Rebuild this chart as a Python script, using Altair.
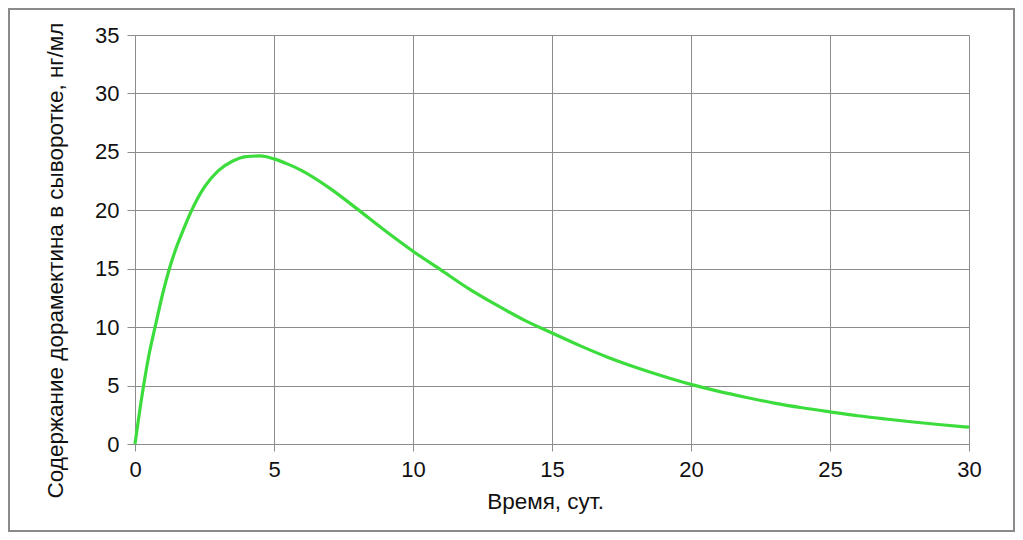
import altair as alt
import pandas as pd

days = [0, 0.25, 0.5, 0.75, 1.0, 1.25, 1.5, 1.75, 2.0, 2.5, 3.0, 3.5, 4.0, 4.5,
        5.0, 5.5, 6, 7, 8, 9, 10, 11, 12, 13, 14, 15, 16, 17, 18, 19, 20,
        21, 22, 23, 24, 25, 26, 27, 28, 29, 30]
conc = [0, 4.1, 7.6, 10.3, 12.9, 15.1, 16.9, 18.4, 19.8, 22.0, 23.4, 24.2, 24.6, 24.65,
        24.4, 23.95, 23.4, 21.9, 20.1, 18.25, 16.5, 14.9, 13.3, 11.9, 10.6, 9.5, 8.42,
        7.43, 6.57, 5.8, 5.1, 4.5, 3.98, 3.5, 3.1, 2.75, 2.42, 2.14, 1.88, 1.65, 1.44]
x_ticks = [0, 5, 10, 15, 20, 25, 30]
y_ticks = [0, 5, 10, 15, 20, 25, 30, 35]

df = pd.DataFrame({"t": days, "c": conc})

W, H = 834, 409
PL, PT, PR, PB = 127, 27, 46, 88

font = "Liberation Sans"

line = alt.Chart(df).mark_line(color="#3cdc3c", strokeWidth=3.2, interpolate="monotone").encode(
    x=alt.X("t:Q", scale=alt.Scale(domain=[0, 30], nice=False),
            axis=alt.Axis(values=x_ticks, title="Время, сут.", titleX=410, titleY=57,
                          titleBaseline="middle", titleAlign="center", labelFlush=False,
                          labelPadding=8, tickSize=7)),
    y=alt.Y("c:Q", scale=alt.Scale(domain=[0, 35], nice=False),
            axis=alt.Axis(values=y_ticks, title="Содержание дорамектина в сыворотке, нг/мл",
                          titleX=-80, titleY=225, titleBaseline="middle", titleAlign="center",
                          labelFlush=False, labelPadding=8, tickSize=8)),
)

frame = alt.Chart(pd.DataFrame({"a": [0]})).mark_rect(filled=False, stroke="#8a8a8a", strokeWidth=2).encode(
    x=alt.value(-PL + 1), x2=alt.value(W + PR - 1),
    y=alt.value(-PT + 1), y2=alt.value(H + PB - 1),
)

chart = alt.layer(frame, line).properties(
    width=W, height=H,
    padding={"left": PL, "top": PT, "right": PR, "bottom": PB},
    autosize=alt.AutoSizeParams(type="none"),
    background="white",
).configure_view(strokeWidth=0).configure_axis(
    labelFont=font, labelFontSize=22, labelColor="#111",
    titleFont=font, titleFontSize=22.5, titleColor="#111", titleFontWeight="normal",
    gridColor="#8c8c8c", gridWidth=1, gridOpacity=1,
    tickColor="#8c8c8c", tickWidth=1, domain=False,
)

chart.save("out.html", embed_options={"renderer": "svg", "actions": False})
